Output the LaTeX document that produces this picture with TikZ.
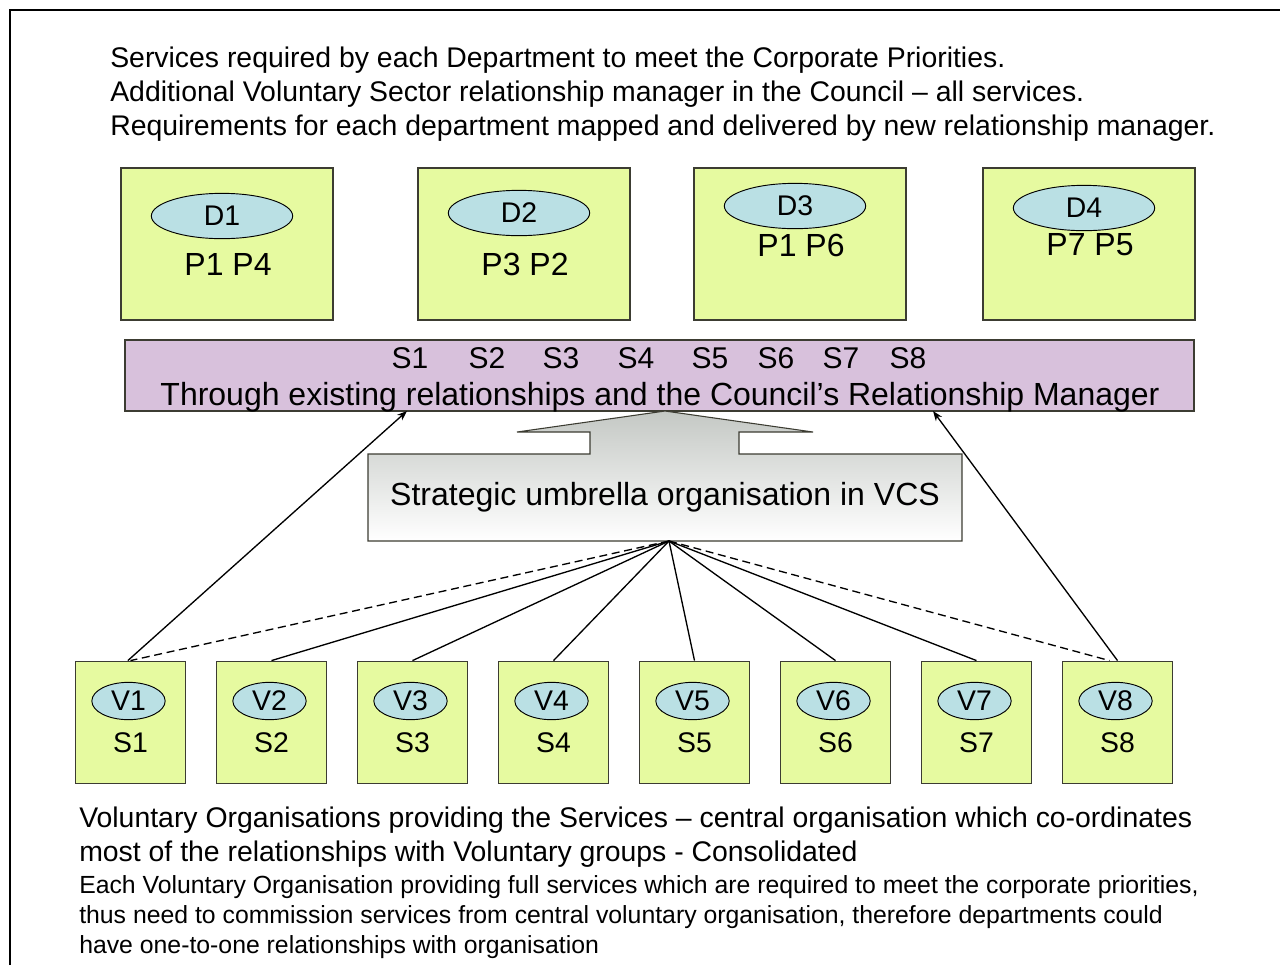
\documentclass[tikz,border=0pt]{standalone}
\usepackage{fontspec}
\setmainfont{Liberation Sans}
\definecolor{boxGreen}{RGB}{230,250,160}
\definecolor{ovalBlue}{RGB}{186,224,228}
\definecolor{barPurple}{RGB}{216,193,220}
\definecolor{edgeGray}{RGB}{60,60,50}
\definecolor{shadeGray}{RGB}{196,200,196}
\usetikzlibrary{arrows.meta,positioning,calc,shapes.geometric}

\begin{document}
\begin{tikzpicture}[x=0.75pt, y=-0.75pt, >=Stealth,
    txt/.style={font=\fontsize{21.3}{25.5}\selectfont, inner sep=0pt},
    big/.style={font=\fontsize{24}{28}\selectfont, inner sep=0pt},
    small/.style={font=\fontsize{18.6}{22.5}\selectfont, inner sep=0pt},
    dept/.style={draw=edgeGray, line width=0.9pt, fill=boxGreen, minimum width=159pt, minimum height=114pt, inner sep=0pt},
    vorg/.style={draw=edgeGray, line width=0.9pt, fill=boxGreen, minimum width=83pt, minimum height=92pt, inner sep=0pt},
    oval/.style={ellipse, draw=black, line width=0.7pt, fill=ovalBlue, inner sep=0pt, txt},
    link/.style={line width=1pt},
    dlink/.style={line width=1pt, dash pattern=on 6pt off 3.5pt}]
    \useasboundingbox (0,0) rectangle (1280,965);
    % outer frame
    \draw[line width=1.8pt] (10,965) -- (10,10) -- (1280,10);

    % heading
    \node[txt, anchor=base west] (head1) at (110,67) {Services required by each Department to meet the Corporate Priorities.};
    \node[txt, anchor=base west] (head2) at (110,101) {Additional Voluntary Sector relationship manager in the Council -- all services.};
    \node[txt, anchor=base west] (head3) at (110,135) {Requirements for each department mapped and delivered by new relationship manager.};

    % departments
    \node[dept] (d1) at (227,244) {};
    \node[dept] (d2) at (524,244) {};
    \node[dept] (d3) at (800,244) {};
    \node[dept] (d4) at (1089,244) {};
    \node[oval, minimum width=106pt, minimum height=34pt] (o1) at (222,216) {D1};
    \node[oval, minimum width=106pt, minimum height=34pt] (o2) at (519,213) {D2};
    \node[oval, minimum width=106pt, minimum height=34pt] (o3) at (795,206) {D3};
    \node[oval, minimum width=106pt, minimum height=34pt] (o4) at (1084,208) {D4};
    \node[big] (p1) at (228,264) {P1 P4};
    \node[big] (p2) at (525,264) {P3 P2};
    \node[big] (p3) at (801,245) {P1 P6};
    \node[big] (p4) at (1090,245) {P7 P5};

    % relationship bar
    \node[draw=edgeGray, line width=0.9pt, fill=barPurple, minimum width=801.75pt, minimum height=53.25pt, inner sep=0pt] (bar) at (659.5,375.5) {};
    \foreach \x [count=\i] in {410,487,561,636,710,776,841,908}
      \node[txt, font=\fontsize{22.5}{26}\selectfont] (bs\i) at (\x,358) {S\i};
    \node[big, anchor=base] (barline) at (660,405) {Through existing relationships and the Council’s Relationship Manager};

    % umbrella organisation with its arrow
    \shade[top color=shadeGray, bottom color=white, draw=edgeGray, line width=0.8pt]
      (368,541) -- (368,454) -- (590,454) -- (590,432) -- (517,432) -- (665,411)
      -- (813,432) -- (739,432) -- (739,454) -- (962,454) -- (962,541) -- cycle;
    \node[big] (umb) at (665,497) {Strategic umbrella organisation in VCS};
    \coordinate (hub) at (669,541);

    % voluntary organisations
    \foreach \i in {1,...,8} {
      \pgfmathsetmacro{\vx}{130.5+141*(\i-1)}
      \node[vorg] (v\i) at (\vx,722.5) {};
      \node[oval, minimum width=55pt, minimum height=28pt] (w\i) at (\vx-2,701) {V\i};
      \node[txt] (s\i) at (\vx,743) {S\i};
    }

    \draw[dlink] (hub) -- (v1.north);
    \foreach \i in {2,...,7}
      \draw[link] (hub) -- (v\i.north);
    \draw[dlink] (hub) -- ([xshift=-6pt]v8.north);

    \coordinate (barL) at (407,411);
    \coordinate (barR) at (933,411);
    \draw[->, link] ([xshift=-2pt]v1.north) -- (barL);
    \draw[->, link] (v8.north) -- (barR);

    % notes
    \node[txt, anchor=base west] (note1) at (79,827) {Voluntary Organisations providing the Services -- central organisation which co-ordinates};
    \node[txt, anchor=base west] (note2) at (79,861) {most of the relationships with Voluntary groups - Consolidated};
    \node[small, anchor=base west] (note3) at (79,893) {Each Voluntary Organisation providing full services which are required to meet the corporate priorities,};
    \node[small, anchor=base west] (note4) at (79,923) {thus need to commission services from central voluntary organisation, therefore departments could};
    \node[small, anchor=base west] (note5) at (79,953) {have one-to-one relationships with organisation};
\end{tikzpicture}
\end{document}
